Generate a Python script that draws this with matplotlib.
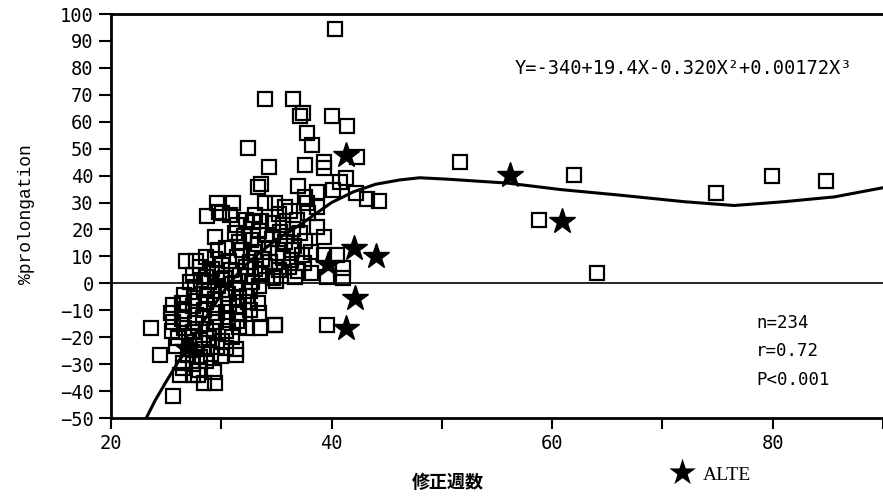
import numpy as np
import matplotlib.pyplot as plt

# ---- data ----
# squares: corrected age (weeks) and % prolongation
week = [40.3, 34.0, 36.5, 37.1, 37.4, 40.0, 41.4, 37.8, 38.2, 32.4, 34.3, 37.6, 39.3, 39.3,
        42.3, 41.3, 40.8, 33.3, 33.6, 43.2, 44.3, 42.2, 40.1, 38.7, 37.6, 37.0,
        # y 20..30
        29.6, 31.1, 30.1, 28.7, 29.8, 30.8, 34.0, 34.9, 35.8, 37.8, 38.7, 32.2, 32.9, 33.6,
        34.7, 35.6, 36.9, 37.9, 38.7, 33.1, 35.2, 36.2, 31.4, 36.5,
        # y 10..20
        29.4, 39.3, 38.1, 39.3, 40.5, 31.2, 32.1, 33.4, 34.1, 35.3, 36.0, 37.1, 31.6, 32.7,
        33.3, 34.6, 35.8, 36.6, 37.6, 30.4, 31.9, 33.0, 34.3, 35.1, 36.4, 37.3, 29.7,
        # y 0..10
        26.8, 27.7, 28.6, 29.4, 30.7, 31.4, 32.6, 33.7, 34.4, 35.6, 36.3, 37.5, 28.1, 29.2,
        30.1, 30.9, 32.2, 33.1, 34.0, 35.2, 36.1, 37.0, 38.1, 36.7, 41.0, 41.0, 39.6, 27.4,
        28.6, 29.6, 30.3, 31.7, 32.4, 33.6, 34.7, 35.4, 27.2, 28.2, 28.9, 30.1, 31.2, 32.8, 35.0,
        # y -10..0
        27.6, 28.4, 29.7, 30.4, 31.3, 32.6, 33.4, 26.6, 27.5, 28.7, 29.4, 30.6, 31.6, 32.3,
        25.6, 26.4, 27.4, 28.6, 29.3, 30.7, 31.4, 32.4, 33.3, 25.4, 26.6, 27.7, 28.4, 29.6,
        30.4, 31.6, 32.6, 33.4,
        # y -20..-11
        25.6, 26.4, 27.6, 28.3, 29.5, 30.6, 31.4, 32.3, 33.5, 34.9, 31.6, 25.5, 26.6, 27.4,
        28.6, 29.3, 30.4, 26.1, 27.1, 28.1, 28.9, 30.1, 31.0,
        # y -30..-21
        25.9, 27.6, 28.4, 29.6, 30.4, 31.3, 31.3, 27.0, 28.1, 29.1, 30.0, 26.5, 27.4, 28.6,
        # below -30 and left outliers
        26.3, 27.4, 27.9, 28.4, 29.4, 29.3, 25.6, 23.6, 24.4, 26.5, 28.0,
        # right side
        51.6, 62.0, 58.8, 64.1, 74.9, 79.9, 84.8, 39.6, 34.9]
prolong = [94.5, 68.5, 68.5, 62.2, 63.3, 62.2, 58.5, 55.9, 51.4, 50.3, 43.3, 44.0, 45.0, 43.0,
           47.0, 39.2, 37.5, 35.9, 37.0, 31.4, 30.6, 33.6, 34.7, 34.0, 32.0, 36.0,
           30.0, 30.0, 26.0, 25.0, 26.6, 25.4, 30.0, 30.0, 28.4, 30.0, 28.4, 23.7, 22.6, 23.3,
           22.3, 21.6, 23.5, 26.0, 21.0, 25.4, 25.8, 26.7, 21.8, 20.2,
           17.3, 17.3, 11.7, 10.5, 10.5, 18.8, 17.6, 19.6, 18.1, 19.2, 17.4, 18.7, 15.3, 16.2,
           14.7, 16.4, 15.2, 13.8, 15.6, 13.2, 12.4, 11.8, 13.1, 11.4, 12.2, 10.4, 12.4,
           8.4, 8.4, 9.6, 9.1, 8.3, 9.7, 7.9, 9.2, 8.1, 9.4, 8.6, 7.4, 6.2, 5.4,
           6.7, 4.9, 6.1, 5.2, 6.4, 4.8, 6.2, 4.4, 3.9, 2.4, 5.7, 2.0, 2.4, 3.1,
           2.4, 3.6, 1.9, 3.2, 2.6, 3.4, 2.1, 2.9, 0.6, 1.1, 0.4, 1.2, 0.3, 0.6, 0.7,
           -1.4, -2.6, -0.9, -2.4, -1.6, -2.7, -1.1, -4.4, -5.6, -4.3, -5.7, -3.9, -5.4, -4.6,
           -8.1, -7.4, -8.6, -6.8, -8.2, -7.6, -8.4, -7.1, -7.3, -11.1, -10.4, -11.6, -9.8, -11.2,
           -10.6, -11.3, -9.9, -11.0,
           -14.2, -13.4, -14.6, -12.8, -14.3, -13.6, -13.9, -16.5, -16.5, -15.4, -16.2, -17.6, -16.4, -18.1,
           -16.9, -17.8, -17.6, -20.4, -19.6, -21.1, -20.2, -21.4, -19.9,
           -23.4, -22.8, -24.2, -23.6, -24.1, -24.4, -26.5, -26.6, -27.4, -26.3, -27.1, -29.4, -30.1, -28.8,
           -34.0, -34.0, -34.0, -37.0, -37.0, -33.0, -42.0, -16.5, -26.5, -31.5, -32.0,
           45.1, 40.2, 23.6, 3.9, 33.5, 40.0, 38.0, -15.4, -15.4]

# ALTE cases (stars)
alte_week = [41.3, 42.0, 44.0, 39.7, 42.1, 41.3, 26.9, 56.2, 60.9]
alte_prolong = [47.5, 13.0, 10.0, 7.0, -5.4, -16.5, -24.0, 40.3, 23.0]

# fitted curve as drawn
curve_x = [23.2, 24, 25, 26, 27, 28, 29, 30, 31, 32, 33.5, 35, 37.2, 40, 42, 44, 46.2, 48,
           50.8, 53, 56, 60.8, 66, 72, 76.5, 81, 85.6, 90]
curve_y = [-50, -43.5, -36.5, -29.8, -23.2, -16.6, -10.2, -4.2, 1.2, 6, 11.5, 16.2, 21.9, 30,
           34, 36.8, 38.4, 39.2, 38.6, 38, 37.2, 34.8, 32.8, 30.3, 28.9, 30.3, 32.1, 35.5]

fig = plt.figure(figsize=(8.83, 4.97), dpi=100)
ax = fig.add_axes([111 / 883, 79 / 497, 772 / 883, 404 / 497])

mono = 'DejaVu Sans Mono'

ax.axhline(0, color='k', lw=1.2)
ax.plot(week, prolong, 's', ms=9.5, mfc='none', mec='k', mew=1.6)
ax.plot(curve_x, curve_y, '-', color='k', lw=2.2)
ax.plot(alte_week, alte_prolong, '*', ms=19, color='k')

ax.set_xlim(20, 90)
ax.set_ylim(-50, 100)
ax.set_xticks([20, 40, 60, 80])
ax.set_xticks([30, 50, 70, 90], minor=True)
ax.set_yticks(np.arange(-50, 101, 10))
ax.tick_params(axis='both', which='both', direction='out', width=1.5, labelsize=13.5)
ax.tick_params(axis='y', length=9)
ax.tick_params(axis='x', which='both', length=8)
for lab in ax.get_xticklabels() + ax.get_yticklabels():
    lab.set_family(mono)
for s in ['left', 'bottom', 'top']:
    ax.spines[s].set_linewidth(2)
ax.spines['right'].set_visible(False)

fig.text(0.03, 0.569, '%prolongation', rotation=90, ha='center', va='center',
         family='Liberation Mono', fontsize=13)
fig.text(448 / 883, 1 - 483 / 497, '修正週数', ha='center', va='center',
         family=['Noto Sans CJK JP', 'DejaVu Sans'], fontsize=13, weight='bold')
fig.text(682 / 883, 1 - 474 / 497, '★', ha='center', va='center',
         family='DejaVu Sans', fontsize=25)
fig.text(703 / 883, 1 - 475 / 497, 'ALTE', ha='left', va='center',
         family='Liberation Serif', fontsize=14)

fig.text(515 / 883, 1 - 68 / 497, 'Y=-340+19.4X-0.320X²+0.00172X³',
         ha='left', va='center', family=mono, fontsize=13.5)
fig.text(756 / 883, 1 - 323 / 497, 'n=234', ha='left', va='center', family=mono, fontsize=12.5)
fig.text(756 / 883, 1 - 351 / 497, 'r=0.72', ha='left', va='center', family=mono, fontsize=12.5)
fig.text(756 / 883, 1 - 380 / 497, 'P<0.001', ha='left', va='center', family=mono, fontsize=12.5)

fig.savefig('out.png', dpi=100)
